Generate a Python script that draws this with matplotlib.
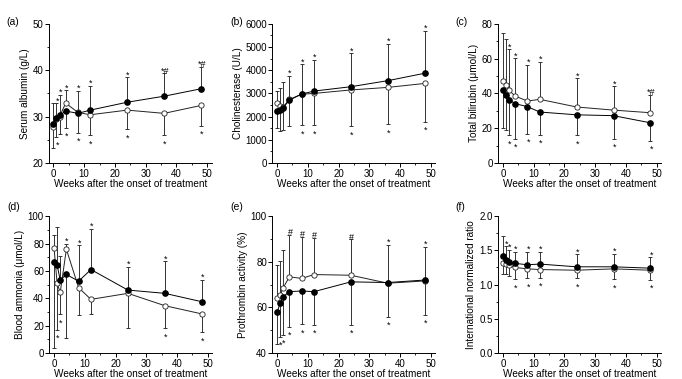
import matplotlib
matplotlib.use("Agg")
import matplotlib.pyplot as plt
import numpy as np
from matplotlib.ticker import MultipleLocator, FormatStrFormatter

plt.rcParams['font.family'] = ['Liberation Sans', 'DejaVu Sans']

weeks = [0, 1, 2, 4, 8, 12, 24, 36, 48]

# (a) serum albumin
alb_f = [28.4, 29.8, 30.3, 31.2, 30.7, 31.4, 33.1, 34.4, 36.0]
alb_f_sd = [4.6, 3.1, 4.4, 3.6, 4.2, 5.2, 5.4, 4.9, 4.8]
alb_o = [27.7, 29.5, 30.0, 32.9, 30.9, 30.4, 31.4, 30.7, 32.4]
alb_o_sd = [4.4, 3.8, 3.7, 2.8, 4.7, 4.4, 4.1, 4.7, 4.4]
alb_up = ["", "*", "*", "*", "*", "*", "*", "*#", "*#"]
alb_dn = ["", "*", "", "*", "*", "*", "*", "*", "*"]

# (b) cholinesterase
che_f = [2240, 2300, 2390, 2710, 2975, 3100, 3290, 3550, 3870]
che_f_sd = [725, 930, 980, 1110, 1280, 1344, 1443, 1587, 1830]
che_o = [2570, 2450, 2420, 2740, 2965, 3000, 3150, 3260, 3430]
che_o_sd = [550, 800, 1060, 1030, 1335, 1370, 1563, 1586, 1655]
che_up = ["", "", "", "*", "*", "*", "*", "*", "*"]
che_dn = ["", "", "", "", "*", "*", "*", "*", "*"]

# (c) total bilirubin
bil_f = [42.2, 39.1, 36.4, 34.1, 32.4, 29.3, 27.7, 27.2, 23.1]
bil_f_sd = [22.0, 20.4, 20.5, 20.2, 15.6, 13.1, 11.9, 13.3, 10.2]
bil_o = [47.2, 44.7, 41.8, 38.5, 35.6, 36.6, 32.2, 30.4, 28.9]
bil_o_sd = [27.5, 26.5, 23.5, 21.6, 20.7, 21.6, 16.4, 13.7, 10.0]
bil_up = ["", "", "*", "*", "*", "*", "*", "*", "*#"]
bil_dn = ["", "", "*", "*", "*", "*", "*", "*", "*"]

# (d) blood ammonia
amm_f = [66.6, 64.2, 53.3, 57.4, 52.5, 61.0, 46.0, 43.6, 37.5]
amm_f_sd = [63.0, 27.8, 17.6, 46.5, 26.2, 29.8, 17.0, 23.5, 15.8]
amm_o = [76.8, 50.8, 44.3, 75.8, 47.7, 39.2, 43.6, 34.6, 28.6]
amm_o_sd = [9.6, 33.9, 16.0, 4.1, 19.9, 10.9, 25.0, 16.4, 13.6]
amm_up = ["", "", "", "*", "*", "*", "*", "*", "*"]
amm_dn = ["", "*", "*", "", "", "", "", "*", "*"]

# (e) prothrombin activity
pta_f = [57.8, 61.8, 64.7, 66.9, 67.2, 66.9, 71.2, 70.9, 72.0]
pta_f_sd = [13.9, 14.6, 16.7, 15.3, 14.6, 14.6, 18.9, 16.6, 14.5]
pta_o = [64.2, 65.4, 68.6, 73.4, 72.7, 74.4, 74.1, 70.6, 71.6]
pta_o_sd = [14.3, 14.8, 16.7, 18.5, 18.1, 16.2, 15.7, 14.6, 14.9]
pta_up = ["", "", "", "#", "#", "#", "#", "*", "*"]
pta_dn = ["", "*", "*", "*", "*", "*", "*", "*", "*"]

# (f) INR
inr_f = [1.42, 1.36, 1.33, 1.31, 1.29, 1.30, 1.26, 1.26, 1.24]
inr_f_sd = [0.29, 0.20, 0.18, 0.17, 0.19, 0.18, 0.18, 0.19, 0.16]
inr_o = [1.32, 1.30, 1.28, 1.25, 1.23, 1.22, 1.21, 1.23, 1.21]
inr_o_sd = [0.17, 0.15, 0.15, 0.17, 0.14, 0.12, 0.12, 0.15, 0.14]
inr_up = ["", "*", "*", "*", "*", "*", "*", "*", "*"]
inr_dn = ["", "", "", "*", "*", "*", "*", "*", "*"]


def draw(ax, f, fsd, o, osd, up, dn, ylab, ylim, ystep, label, ly, fmt=None):
    x = np.array(weeks)
    f = np.array(f); o = np.array(o)
    fsd = np.array(fsd); osd = np.array(osd)
    fhigh = f >= o
    # the higher series shows the upper half bar, the lower one the lower half
    f_err = [np.where(fhigh, 0, fsd), np.where(fhigh, fsd, 0)]
    o_err = [np.where(fhigh, osd, 0), np.where(fhigh, 0, osd)]
    ek = dict(fmt='none', ecolor='#333333', elinewidth=0.7, capsize=1.6, capthick=0.7)
    ax.errorbar(x, o, yerr=o_err, zorder=2, **ek)
    ax.errorbar(x, f, yerr=f_err, zorder=2, **ek)
    ax.plot(x, o, '-o', color='#222222', lw=0.7, ms=3.8, mfc='white', mec='#222222', mew=0.6, zorder=3)
    ax.plot(x, f, '-o', color='black', lw=0.7, ms=3.8, mfc='black', mec='black', zorder=4)

    top = np.where(fhigh, f + fsd, o + osd)
    bot = np.where(fhigh, o - osd, f - fsd)
    for i in range(len(x)):
        if up[i]:
            ax.annotate(up[i], (x[i], top[i]), xytext=(0.5, -1.5), textcoords='offset points',
                        ha='center', va='bottom', fontsize=6.5)
        if dn[i]:
            ax.annotate(dn[i], (x[i], bot[i]), xytext=(0.5, -3), textcoords='offset points',
                        ha='center', va='top', fontsize=6.5)

    ax.set_xlim(-1.5, 51.5)
    ax.set_ylim(*ylim)
    ax.set_xticks([0, 10, 20, 30, 40, 50])
    ax.xaxis.set_minor_locator(MultipleLocator(5))
    ax.yaxis.set_major_locator(MultipleLocator(ystep))
    ax.yaxis.set_minor_locator(MultipleLocator(ystep / 2))
    if fmt:
        ax.yaxis.set_major_formatter(FormatStrFormatter(fmt))
    for s in ['top', 'right']:
        ax.spines[s].set_visible(False)
    for s in ['left', 'bottom']:
        ax.spines[s].set_linewidth(0.7)
    ax.tick_params(which='major', direction='out', length=3, width=0.7, labelsize=7, pad=1)
    ax.tick_params(which='minor', direction='out', length=1.6, width=0.6)
    ax.set_xlabel('Weeks after the onset of treatment', fontsize=7.2, labelpad=0)
    ax.set_ylabel(ylab, fontsize=7.2, labelpad=2)
    ax.text(-0.26, ly, label, transform=ax.transAxes, fontsize=7.5, ha='left', va='center')


fig = plt.figure(figsize=(6.82, 3.79), dpi=100)
W = 0.239
H1 = 0.367
H2 = 0.361
axa = fig.add_axes([0.0715, 0.570, W, H1])
axb = fig.add_axes([0.3995, 0.570, W, H1])
axc = fig.add_axes([0.7305, 0.570, W, H1])
axd = fig.add_axes([0.0725, 0.0686, W, H2])
axe = fig.add_axes([0.3995, 0.0686, W, H2])
axf = fig.add_axes([0.7305, 0.0686, W, H2])

draw(axa, alb_f, alb_f_sd, alb_o, alb_o_sd, alb_up, alb_dn, 'Serum albumin (g/L)', (20, 50), 10, '(a)', 1.015)
draw(axb, che_f, che_f_sd, che_o, che_o_sd, che_up, che_dn, 'Cholinesterase (U/L)', (0, 6000), 1000, '(b)', 1.015)
draw(axc, bil_f, bil_f_sd, bil_o, bil_o_sd, bil_up, bil_dn, 'Total bilirubin (\u03bcmol/L)', (0, 80), 20, '(c)', 1.015)
draw(axd, amm_f, amm_f_sd, amm_o, amm_o_sd, amm_up, amm_dn, 'Blood ammonia (\u03bcmol/L)', (0, 100), 20, '(d)', 1.066)
draw(axe, pta_f, pta_f_sd, pta_o, pta_o_sd, pta_up, pta_dn, 'Prothrombin activity (%)', (40, 100), 20, '(e)', 1.066)
draw(axf, inr_f, inr_f_sd, inr_o, inr_o_sd, inr_up, inr_dn, 'International normalized ratio', (0, 2.0), 0.5, '(f)', 1.066, fmt='%.1f')

fig.savefig('out.png', dpi=100)
